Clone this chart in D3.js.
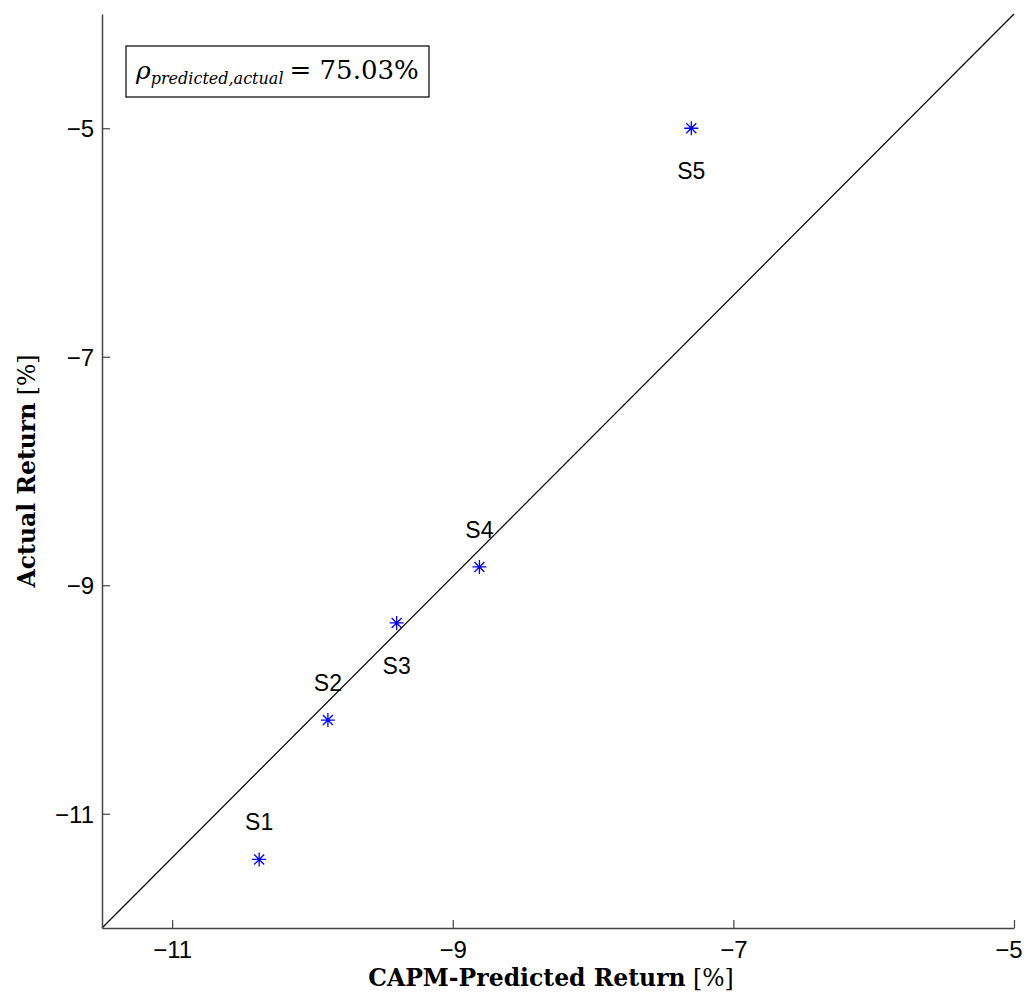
<!DOCTYPE html>
<html>
<head>
<meta charset="utf-8">
<script src="https://cdn.jsdelivr.net/npm/d3@7"></script>
<style>
  html, body { margin: 0; padding: 0; background: #fff; }
  svg { display: block; }
</style>
</head>
<body>
<svg id="chart" width="1024" height="995"></svg>
<script>
// data
const names     = ["S1", "S2", "S3", "S4", "S5"];
const predicted = [-10.38, -9.89, -9.40, -8.81, -7.30];
const actual    = [-11.40, -10.18, -9.33, -8.84, -5.00];
const labelPos  = ["above", "above", "below", "above", "below"];
const xTicks    = [-11, -9, -7, -5];
const yTicks    = [-11, -9, -7, -5];
const xDomain   = [-11.5, -5];
const yDomain   = [-12, -4];
const corrText  = "75.03%";

const svg = d3.select("#chart"),
      margin = { top: 14, right: 10, bottom: 67, left: 102 },
      width  = 1024 - margin.left - margin.right,
      height = 995 - margin.top - margin.bottom;

const g = svg.append("g")
  .attr("transform", `translate(${margin.left},${margin.top})`);

const x = d3.scaleLinear().domain(xDomain).range([0, width]);
const y = d3.scaleLinear().domain(yDomain).range([height, 0]);

// corner to corner reference line
g.append("line")
  .attr("x1", x(xDomain[0])).attr("y1", y(yDomain[0]))
  .attr("x2", x(xDomain[1])).attr("y2", y(yDomain[1]))
  .attr("stroke", "#000").attr("stroke-width", 1.2);

// axes, ticks pointing inward
const minus = d => "\u2212" + Math.abs(d);
const xAxis = g.append("g")
  .attr("transform", `translate(0,${height})`)
  .call(d3.axisBottom(x).tickValues(xTicks).tickSizeInner(-8).tickSizeOuter(0).tickFormat(minus));
const yAxis = g.append("g")
  .call(d3.axisLeft(y).tickValues(yTicks).tickSizeInner(-8).tickSizeOuter(0).tickFormat(minus));

[xAxis, yAxis].forEach(a => {
  a.select(".domain").attr("stroke", "#444").attr("stroke-width", 1.5);
  a.selectAll(".tick line").attr("stroke", "#444").attr("stroke-width", 1.2);
  a.selectAll("text")
    .attr("font-family", "Liberation Sans, Arial, sans-serif")
    .attr("font-size", 24)
    .attr("fill", "#000");
});
xAxis.selectAll("text").attr("dy", null).attr("y", 30);
// last x label pulled in so it stays inside the figure
xAxis.selectAll(".tick").filter(d => d === xTicks[xTicks.length - 1])
  .select("text").attr("text-anchor", "end").attr("x", 8);
yAxis.selectAll("text").attr("x", -8).attr("dy", "0.35em");

// asterisk markers
const star = "M-7,0H7M0,-7V7M-5,-5L5,5M-5,5L5,-5";
const pts = names.map((n, i) => ({ name: n, px: predicted[i], ac: actual[i], pos: labelPos[i] }));

g.selectAll(".pt")
  .data(pts)
  .enter().append("path")
  .attr("class", "pt")
  .attr("d", star)
  .attr("transform", d => `translate(${x(d.px)},${y(d.ac)})`)
  .attr("stroke", "#0000ff")
  .attr("stroke-width", 1.3)
  .attr("fill", "none");

g.selectAll(".lbl")
  .data(pts)
  .enter().append("text")
  .attr("class", "lbl")
  .attr("x", d => x(d.px))
  .attr("y", d => y(d.ac) + (d.pos === "above" ? -29 : 51))
  .attr("text-anchor", "middle")
  .attr("font-family", "Liberation Sans, Arial, sans-serif")
  .attr("font-size", 23)
  .attr("fill", "#000")
  .text(d => d.name);

// correlation box
const box = g.append("g").attr("transform", "translate(24,32)");
box.append("rect")
  .attr("width", 303).attr("height", 51)
  .attr("fill", "#fff").attr("stroke", "#000").attr("stroke-width", 1.2);
const t = box.append("text")
  .attr("x", 10).attr("y", 33)
  .attr("font-family", "DejaVu Serif, serif")
  .attr("fill", "#000");
t.append("tspan").attr("font-style", "italic").attr("font-size", 25).text("\u03c1");
t.append("tspan").attr("font-style", "italic").attr("font-size", 16)
  .attr("dy", 5).text("predicted,actual");
t.append("tspan").attr("font-size", 26).attr("dy", -5).attr("dx", 6).text("= " + corrText);

// axis titles
svg.append("text")
  .attr("x", 551)
  .attr("y", 986)
  .attr("text-anchor", "middle")
  .attr("font-family", "DejaVu Serif, serif")
  .attr("font-size", 23.5)
  .attr("fill", "#000")
  .html('<tspan font-weight="bold">CAPM-Predicted Return</tspan> [%]');

svg.append("text")
  .attr("transform", `translate(35,${margin.top + height * 0.5}) rotate(-90)`)
  .attr("text-anchor", "middle")
  .attr("font-family", "DejaVu Serif, serif")
  .attr("font-size", 23.5)
  .attr("fill", "#000")
  .html('<tspan font-weight="bold">Actual Return</tspan> [%]');
</script>
</body>
</html>
